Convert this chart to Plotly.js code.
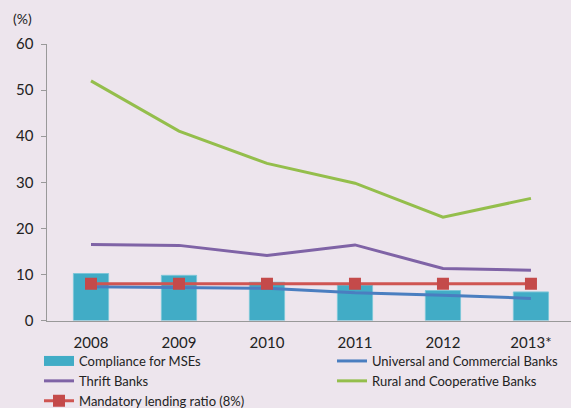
<!DOCTYPE html>
<html>
<head>
<meta charset="utf-8">
<script src="https://cdn.plot.ly/plotly-3.0.1.min.js"></script>
<style>html,body{margin:0;padding:0;overflow:hidden;background:#EDE5ED;}</style>
</head>
<body>
<div id="chart" style="width:571px;height:408px;"></div>
<script>
const years = ["2008", "2009", "2010", "2011", "2012", "2013*"];
const complianceMSE = [10.2, 9.8, 8.3, 7.7, 6.5, 6.2];
const universalCommercial = [7.3, 7.2, 7.0, 6.0, 5.5, 4.8];
const thriftBanks = [16.5, 16.3, 14.1, 16.4, 11.3, 10.9];
const ruralCooperative = [52.0, 41.1, 34.1, 29.8, 22.4, 26.5];
const mandatoryRatio = [8, 8, 8, 8, 8, 8];

const FONT = "Lato, 'Open Sans', sans-serif";
const BAR_COLOR = "#41ACC6";
const traces = [
  {type: "bar", name: "Compliance for MSEs", x: years, y: complianceMSE, showlegend: false,
   marker: {color: BAR_COLOR, line: {color: "#7CC6D8", width: 1}}, width: 0.4},
  // legend-only entry giving the wide bar swatch
  {type: "scatter", mode: "lines", name: "Compliance for MSEs", x: [null], y: [null],
   line: {color: BAR_COLOR, width: 13}, legend: "legend", hoverinfo: "skip"},
  {type: "scatter", mode: "lines", name: "Universal and Commercial Banks", x: years, y: universalCommercial,
   line: {color: "#4A7EC0", width: 3}, legend: "legend2"},
  {type: "scatter", mode: "lines", name: "Thrift Banks", x: years, y: thriftBanks,
   line: {color: "#7F63A6", width: 3}, legend: "legend"},
  {type: "scatter", mode: "lines", name: "Rural and Cooperative Banks", x: years, y: ruralCooperative,
   line: {color: "#94BE4C", width: 3}, legend: "legend2"},
  {type: "scatter", mode: "lines+markers", name: "Mandatory lending ratio (8%)", x: years, y: mandatoryRatio,
   line: {color: "#CF5552", width: 3},
   marker: {symbol: "square", size: 12, color: "#C44A4A"}, legend: "legend"}
];

const PLOT_BOTTOM = 320.5, TOP = 44, H = 408;
const paperH = H - TOP;
const legendY = (H - 346) / paperH;
const legendCommon = {orientation: "v", xanchor: "left", yanchor: "top", yref: "paper", y: legendY,
  bgcolor: "rgba(0,0,0,0)", tracegroupgap: 0, traceorder: "normal",
  font: {family: FONT, size: 13, color: "#222"}};

const layout = {
  width: 571, height: 408,
  paper_bgcolor: "#EDE5ED", plot_bgcolor: "#EDE5ED",
  margin: {l: 47, r: 0, t: TOP, b: 0, autoexpand: false},
  font: {family: FONT, color: "#222", size: 14},
  showlegend: true,
  legend: Object.assign({}, legendCommon, {x: (39 - 47) / 524}),
  legend2: Object.assign({}, legendCommon, {x: (332 - 47) / 524}),
  xaxis: {type: "category", range: [-0.5, 5.455], showline: true, linecolor: "#999", linewidth: 1.5,
          ticks: "", showgrid: false, zeroline: false, ticklabelstandoff: 8, automargin: false,
          tickfont: {family: FONT, size: 15, color: "#222"}},
  yaxis: {range: [0, 60], dtick: 10, domain: [(H - PLOT_BOTTOM) / paperH, 1],
          showline: true, linecolor: "#999", linewidth: 1.5, automargin: false,
          ticks: "outside", ticklen: 5, tickcolor: "#999", showgrid: false, zeroline: false,
          ticklabelstandoff: 4,
          tickfont: {family: FONT, size: 15, color: "#222"}},
  annotations: [{text: "(%)", xref: "paper", yref: "paper", x: (22 - 47) / 524, y: 1 + (TOP - 18) / paperH,
                 showarrow: false, xanchor: "center", yanchor: "middle",
                 font: {family: FONT, size: 14, color: "#222"}}]
};

Plotly.newPlot("chart", traces, layout, {displayModeBar: false, staticPlot: true});
</script>
</body>
</html>
